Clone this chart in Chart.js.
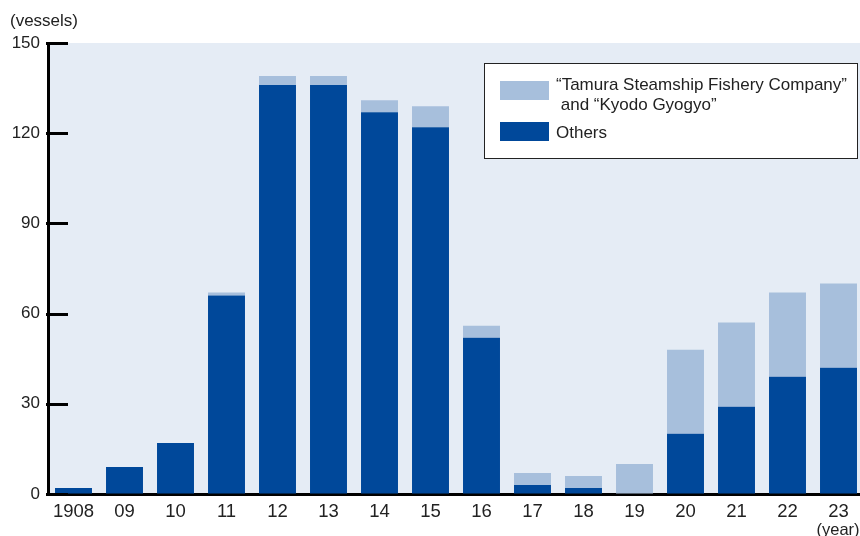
<!DOCTYPE html>
<html>
<head>
<meta charset="utf-8">
<script src="https://cdn.jsdelivr.net/npm/chart.js@4.4.1/dist/chart.umd.min.js"></script>
<style>
  html, body { margin: 0; padding: 0; background: #fff; overflow: hidden; }
  #wrap { position: relative; width: 864px; height: 536px; }
</style>
</head>
<body>
<div id="wrap"><canvas id="chart" width="864" height="536"></canvas></div>
<script>
// data
const years = ['1908', '09', '10', '11', '12', '13', '14', '15', '16', '17', '18', '19', '20', '21', '22', '23'];
const others = [2, 9, 17, 66, 136, 136, 127, 122, 52, 3, 2, 0, 20, 29, 39, 42];
const tamura = [0, 0, 0, 1, 3, 3, 4, 7, 4, 4, 4, 10, 28, 28, 28, 28];
const yTicks = [0, 30, 60, 90, 120, 150];

const tamuraLabel = ['\u201CTamura Steamship Fishery Company\u201D', ' and \u201CKyodo Gyogyo\u201D'];
const othersLabel = 'Others';

const DARK = '#00489a';
const LIGHT = '#a7bfdc';
const PLOT_BG = '#e5ecf5';
const FONT = '"Liberation Sans", Arial, sans-serif';

// light blue plot background
const bgPlugin = {
    id: 'bg',
    beforeDraw(chart) {
        const { ctx, chartArea: a } = chart;
        ctx.save();
        ctx.fillStyle = PLOT_BG;
        ctx.fillRect(a.left, a.top, a.right - a.left, a.bottom - a.top);
        ctx.restore();
    }
};

// inner ticks on the y axis, unit labels and the boxed legend
const extrasPlugin = {
    id: 'extras',
    afterDraw(chart) {
        const { ctx, chartArea: a } = chart;
        const y = chart.scales.y;
        ctx.save();
        ctx.strokeStyle = '#000';
        ctx.lineWidth = 3;
        yTicks.forEach(v => {
            const py = Math.round(y.getPixelForValue(v)) + 0.5;
            ctx.beginPath();
            ctx.moveTo(a.left - 2, py);
            ctx.lineTo(a.left + 20, py);
            ctx.stroke();
        });

        ctx.fillStyle = '#222';
        ctx.font = '17px ' + FONT;
        ctx.textBaseline = 'middle';
        ctx.textAlign = 'left';
        ctx.fillText('(vessels)', 10, 21);
        ctx.font = '16.5px ' + FONT;
        ctx.textAlign = 'center';
        ctx.fillText('(year)', 838, 530);

        // legend box
        ctx.fillStyle = '#fff';
        ctx.fillRect(484, 63, 374, 96);
        ctx.strokeStyle = '#222';
        ctx.lineWidth = 1;
        ctx.strokeRect(484.5, 63.5, 373, 95);

        ctx.fillStyle = LIGHT;
        ctx.fillRect(500, 81, 49, 19);
        ctx.fillStyle = DARK;
        ctx.fillRect(500, 122, 49, 19);

        ctx.fillStyle = '#222';
        ctx.font = '17px ' + FONT;
        ctx.textAlign = 'left';
        ctx.fillText(tamuraLabel[0], 556, 85);
        ctx.fillText(tamuraLabel[1], 556, 105);
        ctx.fillText(othersLabel, 556, 133);
        ctx.restore();
    }
};

new Chart(document.getElementById('chart'), {
    type: 'bar',
    data: {
        labels: years,
        datasets: [{
            label: othersLabel,
            data: others,
            backgroundColor: DARK,
            borderWidth: 0
        }, {
            label: tamuraLabel.join(''),
            data: tamura,
            backgroundColor: LIGHT,
            borderWidth: 0
        }]
    },
    options: {
        responsive: false,
        animation: false,
        layout: { padding: { top: 43, right: 0, bottom: 0, left: 0 } },
        datasets: { bar: { categoryPercentage: 1, barPercentage: 0.725 } },
        scales: {
            x: {
                stacked: true,
                grid: { display: true, drawOnChartArea: false, drawTicks: false },
                border: { display: true, color: '#000', width: 3 },
                ticks: { color: '#222', font: { family: FONT, size: 18.5 }, padding: 7, maxRotation: 0, autoSkip: false },
                afterFit(scale) { scale.height = 42; }
            },
            y: {
                stacked: true,
                min: 0,
                max: 150,
                grid: { display: true, drawOnChartArea: false, drawTicks: false },
                border: { display: true, color: '#000', width: 3 },
                ticks: { stepSize: 30, color: '#222', font: { family: FONT, size: 17 }, padding: 8 },
                afterFit(scale) { scale.width = 48; }
            }
        },
        plugins: {
            legend: { display: false },
            tooltip: { enabled: false }
        }
    },
    plugins: [bgPlugin, extrasPlugin]
});
</script>
</body>
</html>
